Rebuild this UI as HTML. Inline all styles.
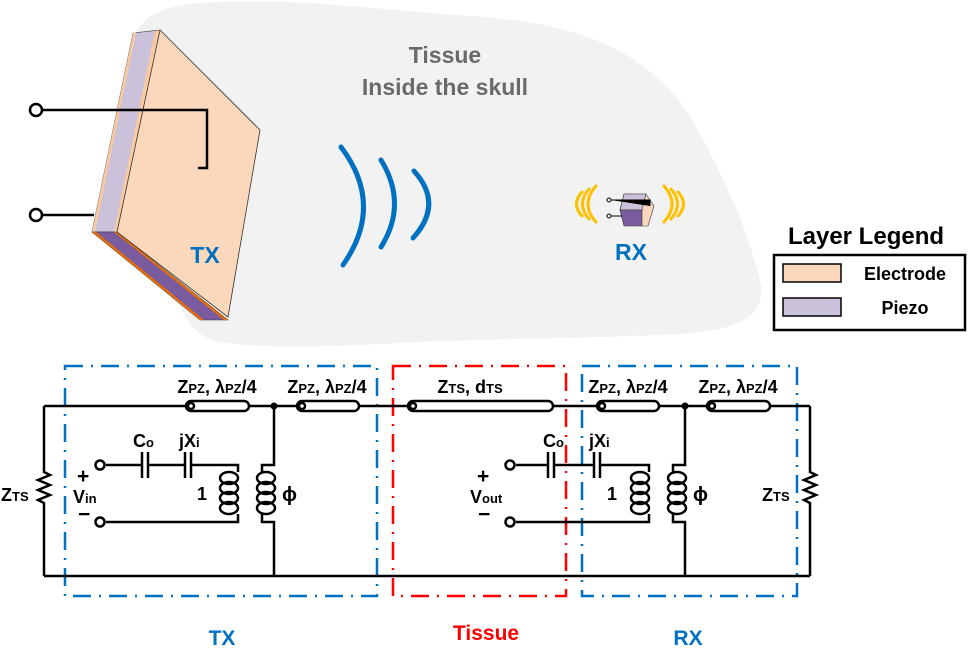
<!DOCTYPE html>
<html><head><meta charset="utf-8"><style>
html,body{margin:0;padding:0;background:#fff;}
svg{display:block;font-family:"Liberation Sans",sans-serif;font-weight:bold;}
</style></head><body>
<svg width="968" height="655" viewBox="0 0 968 655" xmlns="http://www.w3.org/2000/svg">
<path d="M137,30 C150,10 175,3 220,2 C300,-2 380,10 470,16 C560,22 640,40 690,116 C720,170 745,220 760,281 C768,315 740,330 680,334 C600,338 520,338 420,342 C340,346 270,350 220,342 C190,336 180,310 170,280 Z" fill="#f2f2f2"/>
<polygon points="92,232 133,33 160,30 117,232" fill="#ccc1da" stroke="#333" stroke-width="0.6"/>
<polygon points="92,232 133,33 136,32 95,232" fill="#f9c9a0"/>
<polygon points="114,232 155,31 160,30 117,232" fill="#f9c9a0"/>
<polygon points="92,232 117,232 228,320 200,320" fill="#7a5c9e" stroke="#333" stroke-width="0.6"/>
<polygon points="92,232 96,232 204,320 200,320" fill="#e46c0a"/>
<polygon points="114,232 117,232 228,320 224,320" fill="#e46c0a"/>
<polygon points="160,30 260,130 228,317 117,232" fill="#fbd7bb" stroke="#333" stroke-width="0.8"/>
<g stroke="#000" stroke-width="2.5" fill="none">
<path d="M42,110 H207 V168 H198"/>
<path d="M42,215 H94"/>
</g>
<circle cx="36" cy="110" r="6" fill="#fff" stroke="#000" stroke-width="2.5"/>
<circle cx="36" cy="215" r="6" fill="#fff" stroke="#000" stroke-width="2.5"/>
<text x="205" y="263" font-size="23" fill="#0070c0" text-anchor="middle">TX</text>
<g stroke="#0070c0" stroke-width="5" fill="none" stroke-linecap="round">
<path d="M341,147 Q385,205 343,265"/>
<path d="M381,160 Q408,204 381,247"/>
<path d="M414,171 Q444,204 413,238"/>
</g>
<text x="445" y="63" font-size="23" fill="#6a6a6a" text-anchor="middle">Tissue</text>
<text x="445" y="95" font-size="23" fill="#6a6a6a" text-anchor="middle">Inside the skull</text>
<g stroke="#ffc000" stroke-width="3" fill="none" stroke-linecap="round">
<path d="M596,186 Q580,204 596,222"/>
<path d="M589,189 Q576,204 589,219"/>
<path d="M582,192 Q571,204 582,216"/>
<path d="M664,186 Q680,204 664,222"/>
<path d="M671,189 Q684,204 671,219"/>
<path d="M678,192 Q689,204 678,216"/>
</g>
<polygon points="624,194 646,194 654,206 648,226 642,226 620,210" fill="#fbd7bb" stroke="#333" stroke-width="0.6"/>
<polygon points="624,194 646,194 642,210 620,210" fill="#ccc1da" stroke="#333" stroke-width="0.6"/>
<polygon points="620,210 642,210 642,226 624,226" fill="#7a5c9e" stroke="#333" stroke-width="0.6"/>
<g stroke="#000" stroke-width="1"><path d="M611,200 H650 V206"/><path d="M611,216 H622"/></g>
<circle cx="609" cy="200" r="2" fill="#fff" stroke="#000"/>
<circle cx="609" cy="216" r="2" fill="#fff" stroke="#000"/>
<text x="631" y="260" font-size="23" fill="#0070c0" text-anchor="middle">RX</text>
<text x="866" y="244" font-size="24" fill="#000" text-anchor="middle">Layer Legend</text>
<rect x="774" y="255" width="191" height="75" fill="#fff" stroke="#000" stroke-width="2.5"/>
<rect x="783" y="264" width="58" height="18" fill="#fbd7bb" stroke="#000" stroke-width="1.5"/>
<rect x="783" y="298" width="58" height="18" fill="#ccc1da" stroke="#000" stroke-width="1.5"/>
<text x="905" y="280" font-size="18" text-anchor="middle">Electrode</text>
<text x="905" y="314" font-size="18" text-anchor="middle">Piezo</text>
<g fill="none" stroke-width="2.5" stroke-dasharray="18,8,2,8">
<rect x="65" y="366" width="312" height="230" stroke="#0070c0"/>
<rect x="393" y="366" width="173" height="230" stroke="#ff0000"/>
<rect x="582" y="366" width="215" height="230" stroke="#0070c0"/>
</g>
<g stroke="#000" stroke-width="2.5" fill="none">
<path d="M44,406 H810 M44,576 H810"/>
<path d="M44,406 V472 l6,3 -12,5 12,5 -12,5 12,5 -12,5 6,3 V576"/>
<path d="M810,406 V472 l6,3 -12,5 12,5 -12,5 12,5 -12,5 6,3 V576"/>
<path d="M274,406 V465 H262 V472 M262,514 V522 H274 V576"/>
<path d="M685,406 V465 H673 V472 M673,514 V522 H685 V576"/>
<path d="M106,465 H142 M148,465 H185 M191,465 H238 V472 M106,522 H238 V514"/>
<path d="M142,452 V478 M148,452 V478 M185,452 V478 M191,452 V478"/>
<path d="M516,465 H548 M554,465 H594 M600,465 H649 V472 M516,522 H649 V514"/>
<path d="M548,452 V478 M554,452 V478 M594,452 V478 M600,452 V478"/>
</g>
<g stroke="#000" stroke-width="2.5" fill="none">
<ellipse cx="229" cy="478" rx="9" ry="6"/><ellipse cx="229" cy="488" rx="9" ry="6"/><ellipse cx="229" cy="498" rx="9" ry="6"/><ellipse cx="229" cy="508" rx="9" ry="6"/>
<ellipse cx="266" cy="478" rx="9" ry="6"/><ellipse cx="266" cy="488" rx="9" ry="6"/><ellipse cx="266" cy="498" rx="9" ry="6"/><ellipse cx="266" cy="508" rx="9" ry="6"/>
<ellipse cx="640" cy="478" rx="9" ry="6"/><ellipse cx="640" cy="488" rx="9" ry="6"/><ellipse cx="640" cy="498" rx="9" ry="6"/><ellipse cx="640" cy="508" rx="9" ry="6"/>
<ellipse cx="677" cy="478" rx="9" ry="6"/><ellipse cx="677" cy="488" rx="9" ry="6"/><ellipse cx="677" cy="498" rx="9" ry="6"/><ellipse cx="677" cy="508" rx="9" ry="6"/>
</g>
<g stroke="#000" stroke-width="2.5" fill="#fff">
<rect x="186" y="401" width="63" height="10" rx="5"/><circle cx="191" cy="406" r="3"/>
<rect x="297" y="401" width="62" height="10" rx="5"/><circle cx="302" cy="406" r="3"/>
<rect x="408" y="401" width="145" height="10" rx="5"/><circle cx="413" cy="406" r="3"/>
<rect x="597" y="401" width="62" height="10" rx="5"/><circle cx="602" cy="406" r="3"/>
<rect x="707" y="401" width="63" height="10" rx="5"/><circle cx="712" cy="406" r="3"/>
</g>
<circle cx="274" cy="406" r="3.5" fill="#000"/>
<circle cx="685" cy="406" r="3.5" fill="#000"/>
<g fill="#fff" stroke="#000" stroke-width="2.5">
<circle cx="100" cy="465" r="4.5"/><circle cx="100" cy="522" r="4.5"/>
<circle cx="510" cy="465" r="4.5"/><circle cx="510" cy="522" r="4.5"/>
</g>
<g font-size="18" fill="#000">
<text x="217" y="393" text-anchor="middle">Z<tspan font-size="13">PZ</tspan>, λ<tspan font-size="13">PZ</tspan>/4</text>
<text x="327" y="393" text-anchor="middle">Z<tspan font-size="13">PZ</tspan>, λ<tspan font-size="13">PZ</tspan>/4</text>
<text x="470" y="393" text-anchor="middle">Z<tspan font-size="13">TS</tspan>, d<tspan font-size="13">TS</tspan></text>
<text x="628" y="393" text-anchor="middle">Z<tspan font-size="13">PZ</tspan>, λ<tspan font-size="13">PZ</tspan>/4</text>
<text x="738" y="393" text-anchor="middle">Z<tspan font-size="13">PZ</tspan>, λ<tspan font-size="13">PZ</tspan>/4</text>
<text x="133" y="447">C<tspan font-size="13">o</tspan></text>
<text x="179" y="447">jX<tspan font-size="13">i</tspan></text>
<text x="543" y="447">C<tspan font-size="13">o</tspan></text>
<text x="589" y="447">jX<tspan font-size="13">i</tspan></text>
<text x="197" y="500">1</text>
<text x="607" y="500">1</text>
<text x="282" y="501" font-size="20">ϕ</text>
<text x="693" y="501" font-size="20">ϕ</text>
<text x="1" y="501">Z<tspan font-size="13">TS</tspan></text>
<text x="762" y="501">Z<tspan font-size="13">TS</tspan></text>
<text x="77" y="483" font-size="21">+</text>
<text x="73" y="503">V<tspan font-size="13">in</tspan></text>
<text x="78" y="521" font-size="21">−</text>
<text x="477" y="483" font-size="21">+</text>
<text x="470" y="503">V<tspan font-size="13">out</tspan></text>
<text x="478" y="521" font-size="21">−</text>
</g>
<text x="222" y="645" font-size="21" fill="#0070c0" text-anchor="middle">TX</text>
<text x="486" y="640" font-size="21" fill="#ff0000" text-anchor="middle">Tissue</text>
<text x="688" y="645" font-size="21" fill="#0070c0" text-anchor="middle">RX</text>
</svg>
</body></html>
